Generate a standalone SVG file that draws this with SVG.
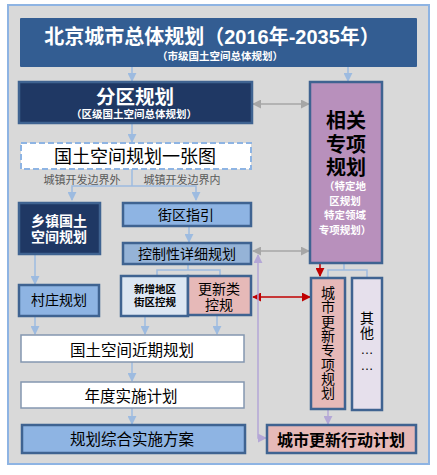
<svg xmlns="http://www.w3.org/2000/svg" width="437" height="475" viewBox="0 0 437 475">
<style>
.cjk{font-family:"Noto Sans CJK SC","Noto Sans",sans-serif}
.ml{font-family:"Liberation Sans","Noto Sans CJK SC",sans-serif}
.w{fill:#ffffff}
.k{fill:#000000}
.b{font-weight:bold}
.vt{writing-mode:vertical-rl;text-orientation:upright}
.node{stroke:#3f6391;stroke-width:2.5}
.navy{fill:#1f3864}
.blue{fill:#8eb4e3}
.pink{fill:#e6b9b8}
.conn{fill:none;stroke:#9dbbe0;stroke-width:1.5}
.gray{fill:none;stroke:#a6a6a6;stroke-width:1.5}
.red{fill:none;stroke:#c00000;stroke-width:1.5}
.pur{fill:none;stroke:#b4a7d6;stroke-width:1.5}
</style>
<defs>
<marker id="ab" viewBox="0 0 10 10" refX="9" refY="5" markerWidth="6" markerHeight="6" orient="auto-start-reverse"><path d="M0,0 L10,5 L0,10 z" fill="#9dbbe0"/></marker>
<marker id="ag" viewBox="0 0 10 10" refX="9" refY="5" markerWidth="6" markerHeight="6" orient="auto-start-reverse"><path d="M0,0 L10,5 L0,10 z" fill="#a6a6a6"/></marker>
<marker id="ar" viewBox="0 0 10 10" refX="9" refY="5" markerWidth="6" markerHeight="6" orient="auto-start-reverse"><path d="M0,0 L10,5 L0,10 z" fill="#c00000"/></marker>
<marker id="ap" viewBox="0 0 10 10" refX="9" refY="5" markerWidth="6" markerHeight="6" orient="auto-start-reverse"><path d="M0,0 L10,5 L0,10 z" fill="#b4a7d6"/></marker>
</defs>
<rect x="0" y="0" width="437" height="475" fill="#ffffff"/>
<rect x="8" y="5" width="421" height="459" fill="#d9d9d9" stroke="#8eb4e3" stroke-width="2"/>

<g id="connectors">
<line class="conn" x1="132" y1="67" x2="132" y2="81" marker-end="url(#ab)"/>
<line class="conn" x1="348" y1="67" x2="348" y2="81" marker-end="url(#ab)"/>
<line class="conn" x1="132" y1="123" x2="132" y2="142" marker-end="url(#ab)"/>
<polyline class="conn" points="132,169 132,186"/>
<polyline class="conn" points="72,200 72,186 196,186 196,200" marker-start="url(#ab)" marker-end="url(#ab)"/>
<line class="conn" x1="35" y1="255" x2="35" y2="284" marker-end="url(#ab)"/>
<line class="conn" x1="189" y1="227" x2="189" y2="242" marker-end="url(#ab)"/>
<polyline class="conn" points="188,265 188,270"/>
<polyline class="conn" points="157,275 157,270 220,270 220,275"/>
<line class="conn" x1="35" y1="317" x2="35" y2="334" marker-end="url(#ab)"/>
<line class="conn" x1="145" y1="316" x2="145" y2="334" marker-end="url(#ab)"/>
<line class="conn" x1="217" y1="316" x2="217" y2="334" marker-end="url(#ab)"/>
<line class="conn" x1="132" y1="362" x2="132" y2="381" marker-end="url(#ab)"/>
<line class="conn" x1="132" y1="408" x2="132" y2="424" marker-end="url(#ab)"/>
<line class="gray" x1="253" y1="104" x2="309" y2="104" marker-start="url(#ag)" marker-end="url(#ag)"/>
<line class="gray" x1="253" y1="251" x2="309" y2="251" marker-start="url(#ag)" marker-end="url(#ag)"/>
<line class="red" x1="320" y1="264" x2="320" y2="276" marker-end="url(#ar)"/>
<polyline class="conn" points="344,264 344,270"/>
<polyline class="conn" points="328,277 328,270 367,270 367,277"/>
<line class="red" x1="253" y1="297" x2="310" y2="297" marker-start="url(#ar)" marker-end="url(#ar)"/>
<polyline class="pur" points="258,255 258,438 266,438" marker-start="url(#ap)" marker-end="url(#ap)"/>
<line class="pur" x1="328" y1="410" x2="328" y2="424" marker-end="url(#ap)"/>
</g>

<g id="master">
<rect x="20" y="18" width="397" height="49" fill="#335d92" rx="1"/>
<text class="ml w b" x="212" y="44" font-size="20" text-anchor="middle">北京城市总体规划（2016年-2035年）</text>
<text class="ml w b" x="220" y="59.5" font-size="10.5" text-anchor="middle">（市级国土空间总体规划）</text>
</g>

<g id="district">
<rect class="node navy" x="19" y="82" width="233" height="41"/>
<text class="ml w b" x="135" y="104" font-size="19.5" text-anchor="middle">分区规划</text>
<text class="ml w b" x="134" y="118" font-size="10.5" text-anchor="middle">（区级国土空间总体规划）</text>
</g>

<g id="onemap">
<rect x="21" y="143" width="230" height="26" fill="#ffffff" stroke="#8eb4e3" stroke-width="2" stroke-dasharray="6,3"/>
<text class="cjk k" x="135" y="163" font-size="18" text-anchor="middle">国土空间规划一张图</text>
<text class="cjk" x="82" y="184" font-size="11" fill="#595959" text-anchor="middle">城镇开发边界外</text>
<text class="cjk" x="182" y="184" font-size="11" fill="#595959" text-anchor="middle">城镇开发边界内</text>
</g>

<g id="township">
<rect class="node navy" x="19" y="203" width="81" height="51"/>
<text class="ml w b" x="59" y="226" font-size="14" text-anchor="middle">乡镇国土</text>
<text class="ml w b" x="59" y="242" font-size="14" text-anchor="middle">空间规划</text>
</g>

<g id="block-guide">
<rect class="node blue" x="123" y="203" width="128" height="23"/>
<text class="cjk k" x="186" y="220" font-size="14" text-anchor="middle">街区指引</text>
</g>

<g id="regulatory">
<rect class="node" x="123" y="243" width="128" height="21" fill="#95b3d7"/>
<text class="cjk k" x="187" y="259" font-size="14" text-anchor="middle">控制性详细规划</text>
</g>

<g id="new-area">
<rect class="node" x="121" y="276" width="67" height="40" fill="#dce6f2"/>
<text class="ml k b" x="155" y="293" font-size="10.5" text-anchor="middle">新增地区</text>
<text class="ml k b" x="155" y="306" font-size="10.5" text-anchor="middle">街区控规</text>
</g>

<g id="renewal-reg">
<rect class="node pink" x="188" y="276" width="63" height="39"/>
<text class="ml k" x="219" y="294" font-size="14" text-anchor="middle">更新类</text>
<text class="ml k" x="219" y="310" font-size="14" text-anchor="middle">控规</text>
</g>

<g id="village">
<rect class="node blue" x="19" y="285" width="80" height="31"/>
<text class="cjk k" x="59" y="305" font-size="14" text-anchor="middle">村庄规划</text>
</g>

<g id="near-term">
<rect x="21" y="335" width="223" height="27" fill="#ffffff" stroke="#8497b0" stroke-width="1.5"/>
<text class="cjk k" x="132" y="356" font-size="15.5" text-anchor="middle">国土空间近期规划</text>
</g>

<g id="annual">
<rect x="21" y="382" width="223" height="26" fill="#ffffff" stroke="#8497b0" stroke-width="1.5"/>
<text class="cjk k" x="131" y="402" font-size="15.5" text-anchor="middle">年度实施计划</text>
</g>

<g id="implementation">
<rect class="node blue" x="22" y="425" width="223" height="28"/>
<text class="cjk k" x="132" y="445" font-size="15.5" text-anchor="middle">规划综合实施方案</text>
</g>

<g id="special">
<rect class="node" x="310" y="82" width="72" height="181" fill="#b890bc"/>
<text class="ml k b" x="346" y="128" font-size="20" text-anchor="middle">相关</text>
<text class="ml k b" x="346" y="152" font-size="20" text-anchor="middle">专项</text>
<text class="ml k b" x="346" y="175" font-size="20" text-anchor="middle">规划</text>
<text class="ml w b" x="345" y="190" font-size="10.5" text-anchor="middle">（特定地</text>
<text class="ml w b" x="345" y="205" font-size="10.5" text-anchor="middle">区规划</text>
<text class="ml w b" x="345" y="219" font-size="10.5" text-anchor="middle">特定领域</text>
<text class="ml w b" x="345" y="234" font-size="10.5" text-anchor="middle">专项规划）</text>
</g>

<g id="renewal-special">
<rect class="node pink" x="311" y="278" width="34" height="131"/>
<text class="cjk k vt" x="328" y="343" font-size="14" letter-spacing="0.3" text-anchor="middle">城市更新专项规划</text>
</g>

<g id="others">
<rect class="node" x="352" y="278" width="30" height="132" fill="#e6e0ec"/>
<text class="cjk k vt" x="367" y="326" font-size="14" letter-spacing="1.5" text-anchor="middle">其他</text>
<text class="ml k" x="367" y="353.5" font-size="13" text-anchor="middle">…</text>
<text class="ml k" x="367" y="369.5" font-size="13" text-anchor="middle">…</text>
</g>

<g id="renewal-action">
<rect class="node pink" x="267" y="425" width="149" height="28"/>
<text class="cjk k b" x="341" y="446" font-size="16" text-anchor="middle">城市更新行动计划</text>
</g>
</svg>
